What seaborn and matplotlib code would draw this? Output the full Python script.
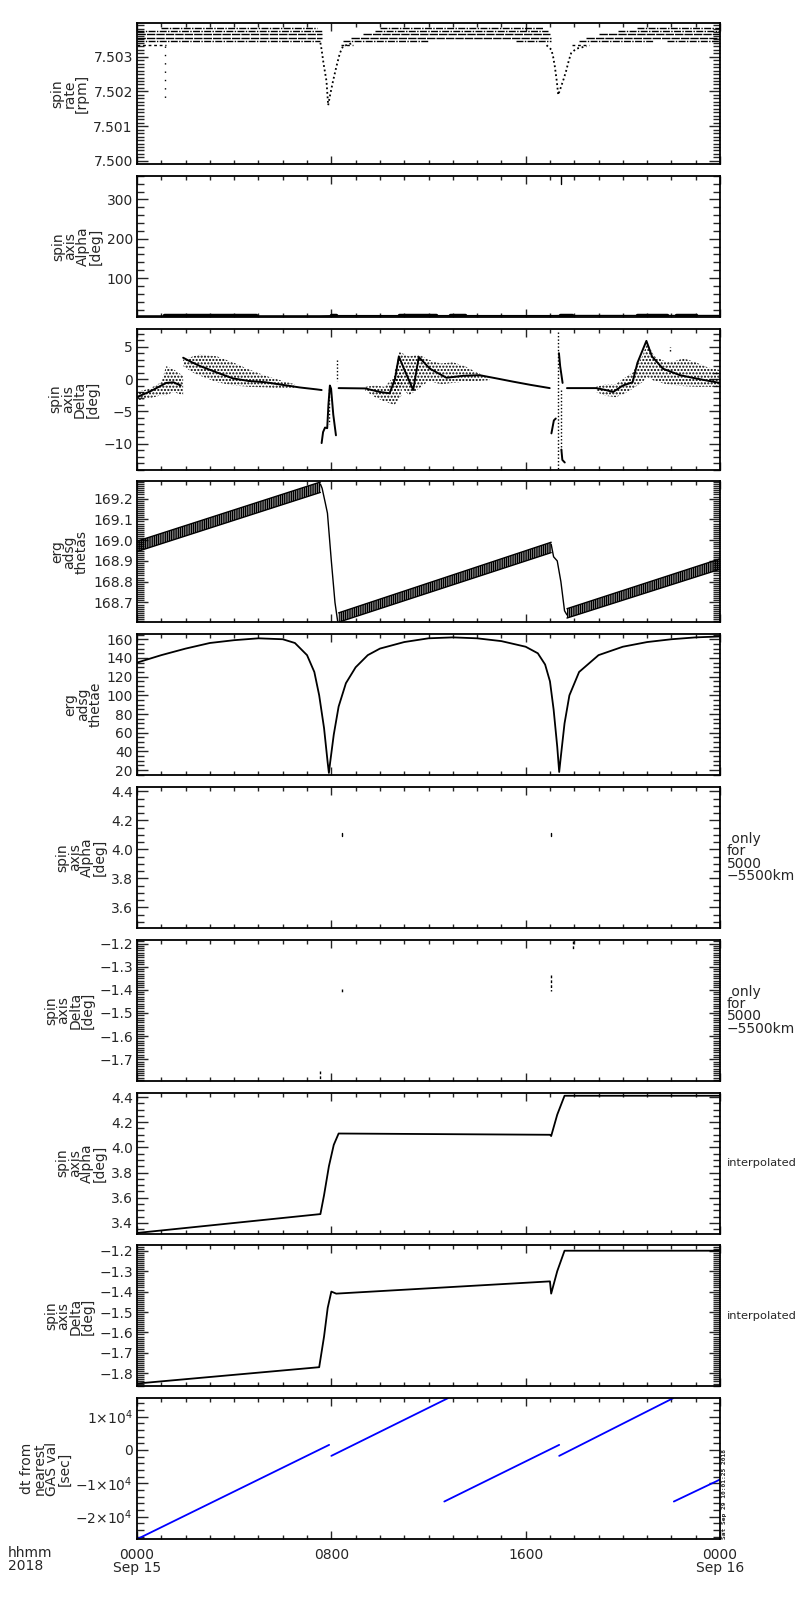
import matplotlib
matplotlib.use('Agg')
import matplotlib.pyplot as plt
import seaborn as sns
from matplotlib.ticker import MultipleLocator

sns.set_theme(style='white')
plt.rcParams['font.family'] = ['DejaVu Sans']
plt.rcParams['hatch.linewidth'] = 1.0
plt.rcParams['mathtext.default'] = 'regular'

# ---------------------------------------------------------------- time axis (hours of 2018-09-15)
xticks = [0, 8, 16, 24]
xticklabels = ['0000\nSep 15', '0800', '1600', '0000\nSep 16']

# ---------------------------------------------------------------- panel 1: spin rate
rate_levels = [7.50384, 7.50374, 7.50364, 7.50354, 7.50344, 7.50334]
rate_spans = [
    [(1.0, 7.4), (10.0, 16.7), (20.6, 24.0)],
    [(0.0, 7.6), (9.8, 16.9), (19.8, 24.0)],
    [(0.0, 7.6), (9.3, 17.0), (19.0, 24.0)],
    [(0.0, 7.6), (8.8, 17.05), (18.5, 24.0)],
    [(0.0, 7.55), (8.5, 12.0), (15.6, 17.05), (18.2, 21.3), (21.8, 24.0)],
    [(0.0, 1.2), (8.4, 8.9), (17.9, 18.6)],
]
rate_dip1_t = [7.55, 7.60, 7.68, 7.80, 7.87, 7.95, 8.07, 8.21, 8.35, 8.48, 8.9]
rate_dip1_v = [7.5034, 7.5032, 7.5028, 7.5023, 7.5016, 7.5019, 7.5023, 7.50272, 7.5031, 7.5033, 7.5034]
rate_dip2_t = [16.86, 17.06, 17.13, 17.20, 17.28, 17.34, 17.44, 17.56, 17.67, 17.78, 17.87, 18.08, 18.5]
rate_dip2_v = [7.50333, 7.5032, 7.5030, 7.50272, 7.5023, 7.5019, 7.5021, 7.50235, 7.5026, 7.5029, 7.5031, 7.50323, 7.5033]
rate_spike_t = [1.15, 1.15]
rate_spike_v = [7.5033, 7.5017]

# ---------------------------------------------------------------- panel 2: raw spin axis alpha
alpha_raw_t = [0.0, 7.55, 8.3, 17.0, 17.6, 24.0]
alpha_raw_v = [3.4, 3.5, 4.1, 4.1, 4.4, 4.4]
alpha_raw_thick = [(1.1, 4.9), (8.0, 8.2), (10.8, 12.3), (12.9, 13.5), (17.4, 17.9), (20.6, 21.8), (22.2, 23.0)]
alpha_wrap_t = [17.45, 17.45]
alpha_wrap_v = [340.0, 360.0]

# ---------------------------------------------------------------- panel 3: raw spin axis delta
delta_lines = [
    ([0.0, 0.3, 0.6, 0.9, 1.2, 1.5, 1.8],
     [-2.8, -2.3, -1.8, -1.2, -0.6, -0.5, -1.0]),
    ([1.9, 2.2, 2.6, 3.3, 3.95, 4.6, 5.3, 6.0, 6.7, 7.4, 7.6],
     [3.3, 2.7, 2.0, 1.0, 0.1, -0.3, -0.5, -0.9, -1.3, -1.6, -1.7]),
    ([7.60, 7.66, 7.74, 7.83, 7.88, 7.94, 7.99, 8.08, 8.19],
     [-9.9, -8.2, -7.5, -7.6, -4.0, -1.0, -1.5, -5.5, -8.7]),
    ([8.3, 9.4, 10.0, 10.4, 10.62, 10.78, 11.0, 11.37, 11.6, 12.06, 12.74, 13.43, 14.1, 14.8, 15.48, 16.2, 16.99],
     [-1.4, -1.45, -2.0, -2.2, 0.0, 3.5, 1.5, -1.7, 3.4, 1.6, 0.2, 0.5, 0.6, 0.1, -0.4, -0.9, -1.4]),
    ([17.06, 17.16, 17.24], [-8.4, -6.4, -6.1]),
    ([17.37, 17.42, 17.52], [4.0, 2.0, -0.6]),
    ([17.47, 17.51, 17.61], [-10.9, -12.5, -12.9]),
    ([17.7, 18.9, 19.3, 19.6, 20.0, 20.4, 20.6, 20.97, 21.2, 21.65, 22.35, 23.0, 23.7, 24.0],
     [-1.4, -1.4, -1.7, -2.0, -1.0, -0.5, 2.5, 5.9, 3.5, 1.6, 0.6, 0.1, -0.4, -0.6]),
]
delta_clouds = [
    ([0.0, 0.5, 1.0, 1.2, 1.5, 1.9], [-2.0, -1.5, -0.5, 2.0, 1.5, 0.5], [-3.3, -3.0, -2.5, -2.5, -2.0, -2.5]),
    ([1.9, 2.3, 2.6, 3.3, 4.0, 4.6, 5.3, 6.0, 6.5], [3.0, 3.5, 3.8, 3.5, 2.5, 1.5, 0.5, -0.3, -0.8],
     [2.0, 1.0, 0.5, -0.5, -1.0, -1.2, -1.3, -1.5, -1.5]),
    ([9.4, 9.8, 10.2, 10.6, 10.9], [-1.2, -1.0, -1.2, 0.5, 1.0], [-1.8, -2.8, -3.5, -4.0, -2.5]),
    ([10.6, 10.8, 11.2, 11.6, 12.0, 12.5, 13.0, 13.5, 14.0, 14.5], [1.0, 4.2, 3.5, 3.8, 3.0, 2.4, 2.6, 2.0, 1.0, 0.2],
     [-2.5, -1.0, -2.5, -1.5, -0.3, -0.8, -0.6, -0.4, -0.3, -0.2]),
    ([18.9, 19.3, 19.7, 20.0, 20.4, 20.8, 21.0, 21.3, 21.7, 22.0, 22.5, 23.0, 23.5, 24.0],
     [-1.2, -0.8, -0.8, 0.0, 1.0, 3.5, 5.6, 3.5, 2.8, 2.6, 3.2, 2.6, 1.8, 1.4],
     [-2.0, -2.6, -2.8, -2.4, -1.5, -0.5, 0.3, -0.3, -0.7, -0.9, -1.1, -1.2, -1.2, -1.2]),
]
delta_dots = [([8.22, 8.22], [3.0, -0.3]), ([7.9, 7.9], [-1.5, -7.0]),
              ([17.33, 17.33], [7.2, -14.0]), ([17.47, 17.47], [-1.7, -10.9]), ([21.93, 21.93], [4.3, 5.0])]

# ---------------------------------------------------------------- panel 4: erg adsg thetas
thetas_band_t = [[0.0, 7.55], [8.3, 17.05], [17.7, 24.0]]
thetas_band_hi = [[168.995, 169.28], [168.65, 168.99], [168.67, 168.91]]
thetas_band_lo = [[168.945, 169.23], [168.605, 168.94], [168.625, 168.86]]
thetas_drop_t = [[7.55, 7.62, 7.75, 7.84, 8.0, 8.15, 8.26], [17.05, 17.15, 17.3, 17.45, 17.6, 17.7]]
thetas_drop_v = [[169.27, 169.25, 169.18, 169.13, 168.9, 168.70, 168.61], [168.98, 168.92, 168.90, 168.80, 168.66, 168.64]]

# ---------------------------------------------------------------- panel 5: erg adsg thetae
thetae_t = [0, 1, 2, 3, 4, 5, 6, 6.5, 7, 7.3, 7.5, 7.7, 7.85, 7.9, 7.95, 8.1, 8.3, 8.6, 9, 9.5, 10, 11, 12, 13, 14,
            15, 16, 16.5, 16.8, 17.0, 17.15, 17.3, 17.38, 17.45, 17.6, 17.8, 18.2, 19, 20, 21, 22, 23, 24]
thetae_v = [135, 143, 150, 156, 159, 161, 160, 156, 143, 125, 100, 65, 28, 17, 28, 58, 88, 113, 130, 143, 150, 157,
            161, 162, 161, 158, 152, 145, 133, 115, 85, 45, 18, 35, 70, 100, 125, 143, 152, 157, 160, 162, 163]

# ---------------------------------------------------------------- panels 6/7: values only for 5000-5500 km
alpha_sel = [([8.43, 8.43], [4.09, 4.11]), ([17.04, 17.04], [4.09, 4.11])]
delta_sel = [([8.43, 8.43], [-1.396, -1.414]), ([17.04, 17.04], [-1.335, -1.405]),
             ([17.95, 17.95], [-1.19, -1.225]), ([7.55, 7.55], [-1.75, -1.79])]

# ---------------------------------------------------------------- panels 8/9: interpolated
alpha_int_t = [0.0, 7.55, 7.7, 7.9, 8.1, 8.3, 17.0, 17.05, 17.3, 17.6, 24.0]
alpha_int_v = [3.32, 3.47, 3.62, 3.85, 4.02, 4.11, 4.10, 4.09, 4.26, 4.41, 4.41]
delta_int_t = [0.0, 7.5, 7.7, 7.85, 8.0, 8.2, 17.0, 17.05, 17.3, 17.6, 24.0]
delta_int_v = [-1.85, -1.77, -1.62, -1.48, -1.40, -1.41, -1.35, -1.41, -1.30, -1.20, -1.20]

# ---------------------------------------------------------------- panel 10: dt from nearest GAS value
dt_segments = [
    ([0.0, 7.91], [-26800, 1500]),
    ([8.0, 12.8], [-1800, 15500]),
    ([12.65, 17.38], [-15500, 1500]),
    ([17.38, 22.07], [-1800, 15500]),
    ([22.1, 24.0], [-15500, -8900]),
]

# ---------------------------------------------------------------- axes text
ylabels = ['spin\nrate\n[rpm]', 'spin\naxis\nAlpha\n[deg]', 'spin\naxis\nDelta\n[deg]', 'erg\nadsg\nthetas',
           'erg\nadsg\nthetae', 'spin\naxis\nAlpha\n[deg]', 'spin\naxis\nDelta\n[deg]', 'spin\naxis\nAlpha\n[deg]',
           'spin\naxis\nDelta\n[deg]', 'dt from\nnearest\nGAS val\n[sec]']
ylims = [(7.49991, 7.50397), (1.5, 360), (-14.0, 7.8), (168.604, 169.283), (14.6, 165.4),
         (3.457, 4.43), (-1.793, -1.184), (3.315, 4.435), (-1.864, -1.174), (-26800, 15500)]
yticks = [[7.500, 7.501, 7.502, 7.503], [100, 200, 300], [-10, -5, 0, 5],
          [168.7, 168.8, 168.9, 169.0, 169.1, 169.2], [20, 40, 60, 80, 100, 120, 140, 160],
          [3.6, 3.8, 4.0, 4.2, 4.4], [-1.7, -1.6, -1.5, -1.4, -1.3, -1.2],
          [3.4, 3.6, 3.8, 4.0, 4.2, 4.4], [-1.8, -1.7, -1.6, -1.5, -1.4, -1.3, -1.2],
          [-20000, -10000, 0, 10000]]
yticklabels = [['7.500', '7.501', '7.502', '7.503'], ['100', '200', '300'], ['\u221210', '\u22125', '0', '5'],
               ['168.7', '168.8', '168.9', '169.0', '169.1', '169.2'],
               ['20', '40', '60', '80', '100', '120', '140', '160'],
               ['3.6', '3.8', '4.0', '4.2', '4.4'],
               ['\u22121.7', '\u22121.6', '\u22121.5', '\u22121.4', '\u22121.3', '\u22121.2'],
               ['3.4', '3.6', '3.8', '4.0', '4.2', '4.4'],
               ['\u22121.8', '\u22121.7', '\u22121.6', '\u22121.5', '\u22121.4', '\u22121.3', '\u22121.2'],
               ['\u22122$\\times$10$^4$', '\u22121$\\times$10$^4$', '0', '1$\\times$10$^4$']]
yminor = [0.0001, 20, 1, 0.01, 5, 0.05, 0.01, 0.05, 0.01, 2000]

W, H = 800, 1600
left, width, top0, ph, pitch = 137, 583, 23, 141, 152.8

fig = plt.figure(figsize=(8, 16), dpi=100)
axes = []
for i in range(10):
    top = top0 + i * pitch
    ax = fig.add_axes([left / W, 1 - (top + ph) / H, width / W, ph / H])
    axes.append(ax)
    ax.set_xlim(0, 24)
    ax.set_ylim(*ylims[i])
    ax.set_xticks(xticks)
    ax.xaxis.set_minor_locator(MultipleLocator(1))
    ax.set_yticks(yticks[i], yticklabels[i])
    ax.yaxis.set_minor_locator(MultipleLocator(yminor[i]))
    ax.tick_params(axis='x', which='major', direction='in', length=6, width=1, top=True, bottom=True,
                   labelsize=10, pad=6)
    ax.tick_params(axis='x', which='minor', direction='in', length=3, width=1, top=True, bottom=True)
    ax.tick_params(axis='y', which='major', direction='in', length=8, width=1, left=True, right=True,
                   labelsize=10, pad=3)
    ax.tick_params(axis='y', which='minor', direction='in', length=5, width=1, left=True, right=True)
    if i < 9:
        ax.set_xticklabels([])
    else:
        ax.set_xticklabels(xticklabels, linespacing=0.95)
    for s in ax.spines.values():
        s.set_linewidth(1.3)
        s.set_color('black')
    ax.set_ylabel(ylabels[i], fontsize=10, linespacing=0.85, labelpad=3)
    ax.grid(False)

dot = (0, (1, 1.5))

# panel 1
ax = axes[0]
for k, (lev, spans) in enumerate(zip(rate_levels, rate_spans)):
    style = (0, (5, 1, 1, 1)) if k in (0, 1, 4) else (0, (6, 0.8))
    if k == 5:
        style = (0, (2, 2))
    for a, b in spans:
        ax.plot([a, b], [lev, lev], color='black', lw=1.0, ls=style)
ax.plot(rate_dip1_t, rate_dip1_v, color='black', lw=1.3, ls=dot)
ax.plot(rate_dip2_t, rate_dip2_v, color='black', lw=1.3, ls=dot)
ax.plot(rate_spike_t, rate_spike_v, color='black', lw=1.0, ls=(0, (1, 5)))

# panel 2
ax = axes[1]
sns.lineplot(x=alpha_raw_t, y=alpha_raw_v, ax=ax, color='black', lw=1.2, sort=False, estimator=None)
for a, b in alpha_raw_thick:
    ax.plot([a, b], [5, 5], color='black', lw=2.5)
ax.plot(alpha_wrap_t, alpha_wrap_v, color='black', lw=1.0)

# panel 3
ax = axes[2]
for t, hi, lo in delta_clouds:
    ax.fill_between(t, lo, hi, facecolor='none', edgecolor='black', hatch='.....', lw=0)
for t, v in delta_lines:
    ax.plot(t, v, color='black', lw=1.4)
for t, v in delta_dots:
    ax.plot(t, v, color='black', lw=1.0, ls=dot)

# panel 4
ax = axes[3]
for t, hi, lo in zip(thetas_band_t, thetas_band_hi, thetas_band_lo):
    ax.fill_between(t, lo, hi, facecolor='none', edgecolor='black', hatch='|||||||||', lw=0)
    ax.plot(t, hi, color='black', lw=1.0)
    ax.plot(t, lo, color='black', lw=1.0)
for t, v in zip(thetas_drop_t, thetas_drop_v):
    ax.plot(t, v, color='black', lw=1.0)

# panel 5
ax = axes[4]
sns.lineplot(x=thetae_t, y=thetae_v, ax=ax, color='black', lw=1.3, sort=False, estimator=None)

# panels 6, 7
for t, v in alpha_sel:
    axes[5].plot(t, v, color='black', lw=1.0)
for t, v in delta_sel:
    axes[6].plot(t, v, color='black', lw=1.0, ls=(0, (2, 1.5)))

# panels 8, 9
sns.lineplot(x=alpha_int_t, y=alpha_int_v, ax=axes[7], color='black', lw=1.3, sort=False, estimator=None)
sns.lineplot(x=delta_int_t, y=delta_int_v, ax=axes[8], color='black', lw=1.3, sort=False, estimator=None)

# panel 10
for t, v in dt_segments:
    sns.lineplot(x=t, y=v, ax=axes[9], color='blue', lw=1.3, sort=False, estimator=None)


# side notes
def panel_center(i):
    return 1 - (top0 + i * pitch + ph / 2) / H


for i in (5, 6):
    fig.text(727 / W, panel_center(i), ' only\nfor\n5000\n\u22125500km', fontsize=10, ha='left', va='center',
             linespacing=0.85)
for i in (7, 8):
    fig.text(727 / W, panel_center(i), 'interpolated', fontsize=8.2, ha='left', va='center')

fig.text(8 / W, 1 - 1546 / H, 'hhmm\n2018', fontsize=10, ha='left', va='top', linespacing=0.95)
fig.text(722 / W, 1 - 1539 / H, 'Sat Sep 29 10:01:25 2018', fontsize=4.5, family='DejaVu Sans Mono',
         weight='bold', rotation=90, ha='left', va='bottom')

fig.savefig('out.png', dpi=100)
